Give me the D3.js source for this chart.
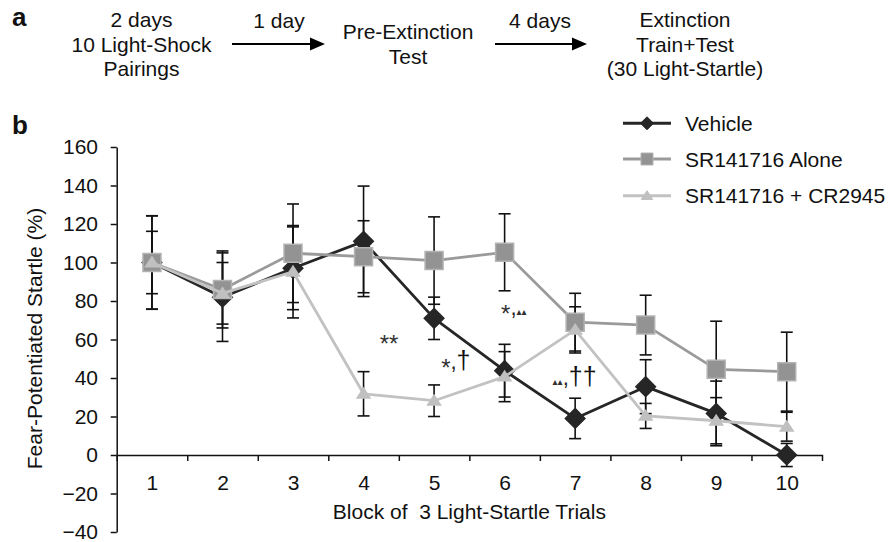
<!DOCTYPE html>
<html>
<head>
<meta charset="utf-8">
<script src="https://cdn.jsdelivr.net/npm/d3@7"></script>
<style>
  html, body { margin: 0; padding: 0; background: #fff; }
  svg { display: block; }
  text { font-family: "Liberation Sans", Arial, Helvetica, sans-serif; fill: #111; }
</style>
</head>
<body>
<svg id="chart" width="890" height="542"></svg>
<script>
// ---------------- DATA ----------------
const categories = ["1", "2", "3", "4", "5", "6", "7", "8", "9", "10"];
const seriesNames = ["Vehicle", "SR141716 Alone", "SR141716 + CR2945"];
const vehicle      = [100, 82, 97, 111, 71, 43.8, 19, 35.5, 21.6, 0];
const vehicleErr   = [16.2, 23, 21.5, 28.7, 11, 13.7, 10.5, 14, 16.8, 6];
const srAlone      = [100, 86, 104.8, 103, 101, 105.3, 69, 67.5, 44.5, 43.3];
const srAloneErr   = [24.3, 20, 25.6, 18.7, 22.7, 20, 15, 15.5, 25, 20.5];
const srCr         = [100, 84, 95.2, 31.8, 28.2, 40.7, 65, 20.3, 17.8, 14.7];
const srCrErr      = [24.2, 16, 24, 11.5, 8.2, 13, 12, 6.5, 12, 7.5];
const yTicks = [-40, -20, 0, 20, 40, 60, 80, 100, 120, 140, 160];
const yTitle = "Fear-Potentiated Startle (%)";
const xTitle = "Block of  3 Light-Startle Trials";
// significance annotations: anchored in data space (category position, value at baseline)
const annotations = [
  { cat: 4.23, val: 57, text: "**" },
  { cat: 5.10, val: 44.5, text: "*,†" },
  { cat: 5.95, val: 72.5, text: "*,▴▴" },
  { cat: 6.68, val: 36.5, text: "▴▴,††" }
];
// panel a timeline
const stepLabels = [
  ["2 days", "10 Light-Shock", "Pairings"],
  ["Pre-Extinction", "Test"],
  ["Extinction", "Train+Test", "(30 Light-Startle)"]
];
const arrowLabels = ["1 day", "4 days"];

// ---------------- LAYOUT ----------------
const svg = d3.select("#chart");
const FS = 21;
const plotL = 116.7, plotR = 822, plotT = 147, plotB = 532;

// Panel a
svg.append("text").attr("x", 12).attr("y", 26).attr("font-weight", "bold")
  .attr("font-size", 26).text("a");
const stepCenters = [141.5, 408, 685];
const stepFirstBaseline = [27, 39, 27];
const lineH = 24.5;
stepLabels.forEach((lines, i) => {
  lines.forEach((t, j) => {
    svg.append("text").attr("x", stepCenters[i]).attr("y", stepFirstBaseline[i] + j * lineH)
      .attr("text-anchor", "middle").attr("font-size", FS).text(t);
  });
});
const arrows = [{ x0: 232, x1: 325, lx: 279 }, { x0: 495, x1: 587, lx: 540 }];
arrows.forEach((a, i) => {
  const ay = 44;
  svg.append("line").attr("x1", a.x0).attr("x2", a.x1 - 12).attr("y1", ay).attr("y2", ay)
    .attr("stroke", "#000").attr("stroke-width", 2);
  svg.append("path").attr("d", `M${a.x1},${ay} L${a.x1 - 15},${ay - 6.5} L${a.x1 - 15},${ay + 6.5} Z`)
    .attr("fill", "#000");
  svg.append("text").attr("x", a.lx).attr("y", 27.5).attr("text-anchor", "middle")
    .attr("font-size", FS).text(arrowLabels[i]);
});

// Panel b
svg.append("text").attr("x", 12).attr("y", 134).attr("font-weight", "bold")
  .attr("font-size", 26).text("b");

const x = d3.scaleLinear().domain([0.5, categories.length + 0.5]).range([plotL, plotR]);
const y = d3.scaleLinear().domain([-40, 160]).range([plotB, plotT]);

// Y axis
const yAxis = svg.append("g").attr("transform", `translate(${plotL},0)`)
  .call(d3.axisLeft(y).tickValues(yTicks).tickSize(6).tickSizeOuter(0).tickPadding(12.7)
    .tickFormat(d => d < 0 ? "\u2212" + Math.abs(d) : d));
yAxis.selectAll("text").attr("font-size", FS).attr("font-family", null);
yAxis.selectAll("line,path").attr("stroke", "#111").attr("stroke-width", 1.5);

// X axis at y=0 : boundary ticks
const xAxisTicks = svg.append("g").attr("transform", `translate(0,${y(0)})`)
  .call(d3.axisBottom(x).tickValues(d3.range(1.5, categories.length, 1)).tickSize(6)
    .tickSizeOuter(6).tickFormat(""));
xAxisTicks.selectAll("line,path").attr("stroke", "#111").attr("stroke-width", 1.5);
// X axis labels at category centers
const xAxisLabels = svg.append("g").attr("transform", `translate(0,${y(0)})`)
  .call(d3.axisBottom(x).tickValues(d3.range(1, categories.length + 1)).tickSize(0)
    .tickPadding(20).tickFormat(d => categories[d - 1]));
xAxisLabels.select(".domain").remove();
xAxisLabels.selectAll("text").attr("font-size", FS).attr("font-family", null);

// Titles
svg.append("text").attr("transform", `translate(42,${(y(160) + y(-40)) / 2 - 1}) rotate(-90)`)
  .attr("text-anchor", "middle").attr("font-size", FS).text(yTitle);
svg.append("text").attr("x", (plotL + plotR) / 2).attr("y", 519)
  .attr("text-anchor", "middle").attr("font-size", FS).style("white-space", "pre")
  .attr("xml:space", "preserve").text(xTitle);

// Series definitions
const series = [
  { name: seriesNames[0], vals: vehicle, err: vehicleErr, line: "#262626", fill: "#262626", stroke: "#262626", shape: "diamond" },
  { name: seriesNames[1], vals: srAlone, err: srAloneErr, line: "#9a9a9a", fill: "#939393", stroke: "#b3b3b3", shape: "square" },
  { name: seriesNames[2], vals: srCr, err: srCrErr, line: "#c2c2c2", fill: "#c0c0c0", stroke: "#c0c0c0", shape: "triangle" }
];
function shapePath(shape, s) {
  if (shape === "diamond") return `M0,${-s} L${s},0 L0,${s} L${-s},0 Z`;
  if (shape === "square") return `M${-s},${-s} H${s} V${s} H${-s} Z`;
  return `M0,${-s} L${s * 1.15},${s * 0.75} L${-s * 1.15},${s * 0.75} Z`;
}
const markerSize = { diamond: 9.8, square: 9, triangle: 5.6 };
const legendSize = { diamond: 6.5, square: 6, triangle: 5 };

// Error bars (drawn first)
const capW = 6;
series.forEach(s => {
  const g = svg.append("g");
  s.vals.forEach((v, i) => {
    const cx = x(i + 1), hi = y(v + s.err[i]), lo = y(v - s.err[i]);
    g.append("line").attr("x1", cx).attr("x2", cx).attr("y1", hi).attr("y2", lo)
      .attr("stroke", "#111").attr("stroke-width", 1.6);
    [hi, lo].forEach(yy => g.append("line").attr("x1", cx - capW).attr("x2", cx + capW)
      .attr("y1", yy).attr("y2", yy).attr("stroke", "#111").attr("stroke-width", 1.6));
  });
});

// Lines and markers
const lineGen = d3.line().x((d, i) => x(i + 1)).y(d => y(d));
series.forEach(s => {
  svg.append("path").datum(s.vals).attr("d", lineGen).attr("fill", "none")
    .attr("stroke", s.line).attr("stroke-width", 2.8).attr("stroke-linejoin", "round");
  svg.append("g").selectAll("path").data(s.vals).join("path")
    .attr("transform", (d, i) => `translate(${x(i + 1)},${y(d)})`)
    .attr("d", shapePath(s.shape, markerSize[s.shape]))
    .attr("fill", s.fill).attr("stroke", s.stroke).attr("stroke-width", 1.5);
});

// Legend
const legY = [123.3, 159, 195.7];
series.forEach((s, i) => {
  const g = svg.append("g").attr("transform", `translate(0,${legY[i]})`);
  g.append("line").attr("x1", 623).attr("x2", 671).attr("stroke", s.line).attr("stroke-width", 3);
  g.append("path").attr("transform", "translate(647,0)").attr("d", shapePath(s.shape, legendSize[s.shape]))
    .attr("fill", s.fill).attr("stroke", s.stroke).attr("stroke-width", 1);
  g.append("text").attr("x", 685).attr("y", 7.5).attr("font-size", FS).text(s.name);
});

// Annotations
annotations.forEach(a => {
  const t = svg.append("text").attr("x", x(a.cat)).attr("y", y(a.val))
    .attr("font-family", "'Liberation Serif', 'Times New Roman', serif").attr("font-size", 22)
    .style("fill", "#333");
  let shift = 0; // current baseline offset
  Array.from(a.text).forEach(ch => {
    const target = ch === "*" ? 7 : 0;
    const sp = t.append("tspan").attr("dy", target - shift);
    shift = target;
    if (ch === "*") {
      sp.attr("font-size", 24).text("*");
    } else if (ch === "▴") {
      sp.attr("font-family", "'DejaVu Sans', sans-serif").attr("font-size", 10).text(ch);
    } else if (ch === "†") {
      sp.attr("font-size", 25).style("fill", "#111").text(ch);
    } else {
      sp.style("fill", "#222").text(ch);
    }
  });
});
</script>
</body>
</html>
